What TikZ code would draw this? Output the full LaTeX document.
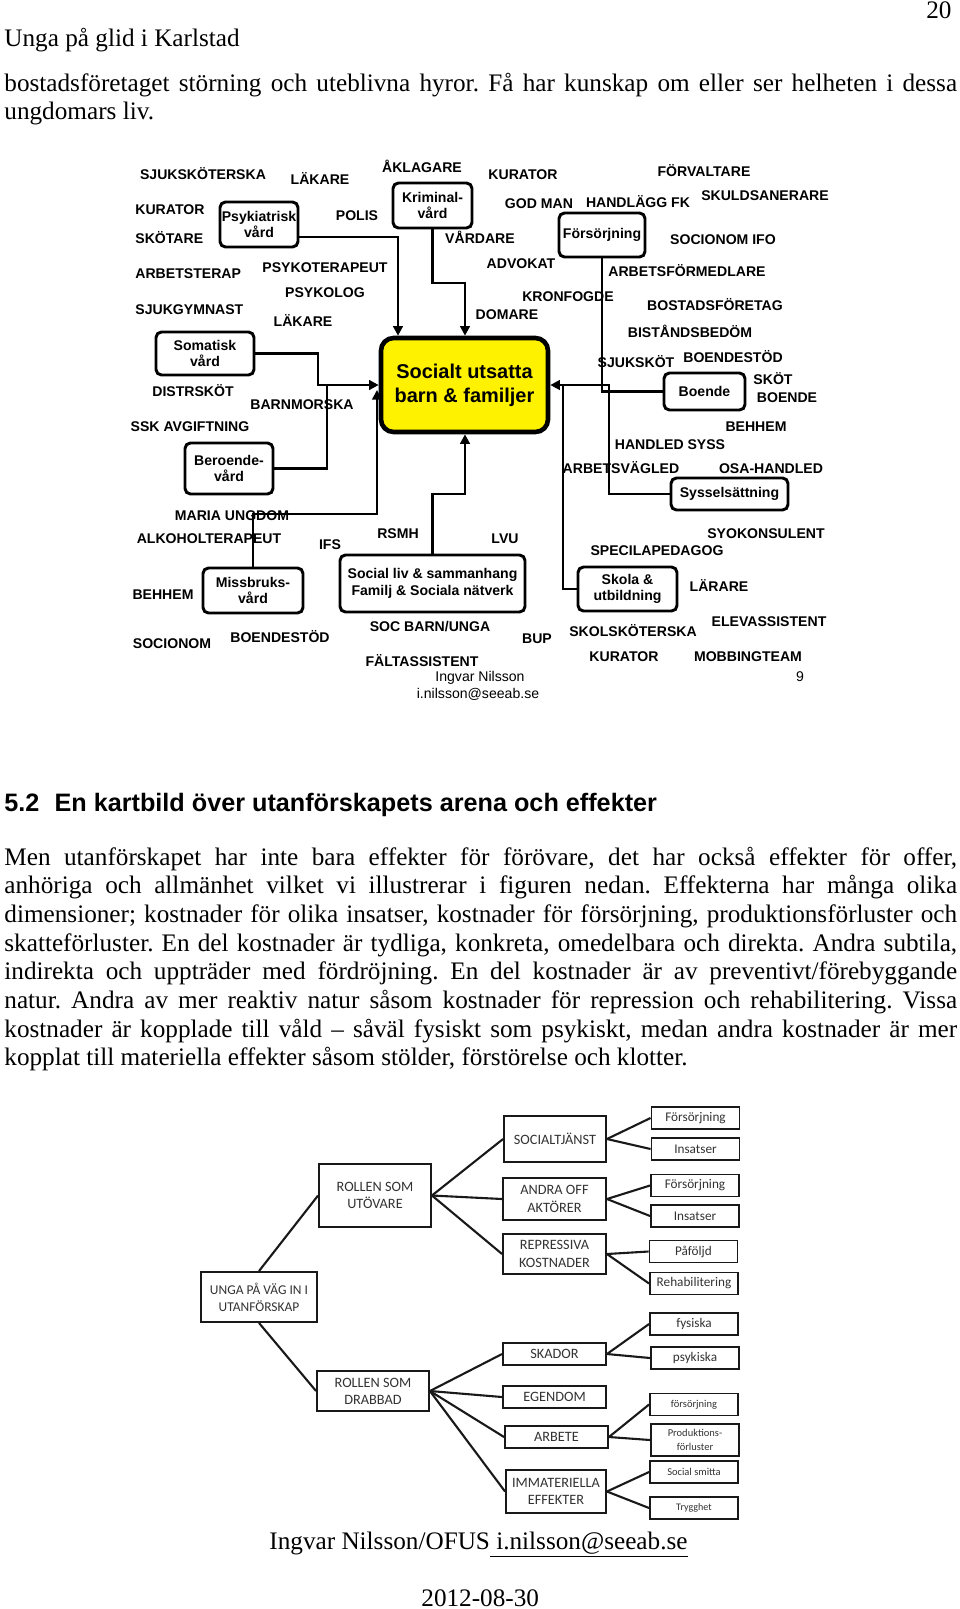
\documentclass[tikz,border=0pt]{standalone}
\usepackage{fontspec}
\setmainfont{Liberation Serif}
\setsansfont{Liberation Sans}
\newfontfamily\calib{Carlito}
\usepackage{tikz}
\usetikzlibrary{arrows.meta}
\frenchspacing
\newlength\px
\setlength\px{0.476pt}
\newcommand\fullline[1]{\makebox[453.5pt][s]{#1}}

\begin{document}
\begin{tikzpicture}[x=0.476pt, y=-0.476pt,
  sz/.style 2 args={minimum width=#1\px, minimum height=#2\px},
  lbl/.style={font=\sffamily\bfseries\fontsize{6.7}{7.7}\selectfont, inner sep=0pt, text height=4.8pt, text depth=0pt},
  lblr/.style={lbl, font=\sffamily\fontsize{6.7}{7.7}\selectfont},
  unit/.style={draw, line width=1.4pt, rounded corners=2.6pt, align=center, inner sep=0pt, font=\sffamily\bfseries\fontsize{6.7}{7.9}\selectfont},
  core/.style={draw, line width=2.2pt, rounded corners=6pt, fill=yellow, align=center, inner sep=0pt, font=\sffamily\bfseries\fontsize{9.5}{11.4}\selectfont},
  link/.style={line width=1.4pt},
  arr/.style={link, -{Triangle[length=4.6pt, width=4.6pt]}},
  txt/.style={anchor=base west, inner sep=0pt, font=\fontsize{12}{13.8}\selectfont},
  cbox/.style={draw=black!90, line width=0.9pt, align=center, inner sep=0pt, text=black!80, font=\calib\fontsize{6.8}{8.2}\selectfont},
  leaf/.style={cbox, sz={88}{22}, font=\calib\fontsize{6.3}{7.2}\selectfont},
  branch/.style={line width=1pt, draw=black!90}
]
  \fill[white] (0,0) rectangle (960,1609);
  \useasboundingbox (0,0) rectangle (960,1609);

  % page header and text above the map
  \node[txt, anchor=base east] (pageno) at (952,18) {20};
  \node[txt] (runhead) at (4,46) {Unga på glid i Karlstad};
  \node[txt] (intro1) at (4,91) {\fullline{bostadsföretaget störning och uteblivna hyror. Få har kunskap om eller ser helheten i dessa}};
  \node[txt] (intro2) at (4,119) {ungdomars liv.};

  % map: professions (labels)
  \node[lbl] (sjsk) at (203,174) {SJUKSKÖTERSKA};
  \node[lbl] (lak1) at (320,179) {LÄKARE};
  \node[lbl] (akl) at (422,167) {ÅKLAGARE};
  \node[lbl] (kur1) at (523,174) {KURATOR};
  \node[lbl] (forv) at (704,171) {FÖRVALTARE};
  \node[lbl, anchor=west] (kur2) at (135,209) {KURATOR};
  \node[lbl] (polis) at (357,215) {POLIS};
  \node[lbl] (godm) at (539,203) {GOD MAN};
  \node[lbl] (hfk) at (638,202) {HANDLÄGG FK};
  \node[lbl] (skuld) at (765,195) {SKULDSANERARE};
  \node[lbl, anchor=west] (skot1) at (135,238) {SKÖTARE};
  \node[lbl] (vard) at (480,238) {VÅRDARE};
  \node[lbl] (sifo) at (723,239) {SOCIONOM IFO};
  \node[lbl] (adv) at (521,263) {ADVOKAT};
  \node[lbl] (afm) at (687,271) {ARBETSFÖRMEDLARE};
  \node[lbl, anchor=west] (arbt) at (135,273) {ARBETSTERAP};
  \node[lbl] (psyt) at (325,267) {PSYKOTERAPEUT};
  \node[lbl] (psyl) at (325,292) {PSYKOLOG};
  \node[lbl] (kron) at (568,296) {KRONFOGDE};
  \node[lbl] (bost) at (715,305) {BOSTADSFÖRETAG};
  \node[lbl, anchor=west] (sjgy) at (135,309) {SJUKGYMNAST};
  \node[lbl] (lak2) at (303,321) {LÄKARE};
  \node[lbl] (dom) at (507,314) {DOMARE};
  \node[lbl] (bist) at (690,332) {BISTÅNDSBEDÖM};
  \node[lbl] (sjuk) at (636,362) {SJUKSKÖT};
  \node[lbl] (bst1) at (733,357) {BOENDESTÖD};
  \node[lbl] (skot2) at (773,379) {SKÖT};
  \node[lbl] (boe) at (787,397) {BOENDE};
  \node[lbl] (dist) at (193,391) {DISTRSKÖT};
  \node[lbl] (barn) at (302,404) {BARNMORSKA};
  \node[lbl] (ssk) at (190,426) {SSK AVGIFTNING};
  \node[lbl] (beh1) at (756,426) {BEHHEM};
  \node[lbl] (hsyss) at (670,444) {HANDLED SYSS};
  \node[lbl] (avgl) at (621,468) {ARBETSVÄGLED};
  \node[lbl] (osa) at (771,468) {OSA-HANDLED};
  \node[lbl] (maria) at (232,515) {MARIA UNGDOM};
  \node[lbl] (alko) at (209,538) {ALKOHOLTERAPEUT};
  \node[lbl] (ifs) at (330,544) {IFS};
  \node[lbl] (rsmh) at (398,533) {RSMH};
  \node[lbl] (lvu) at (505,538) {LVU};
  \node[lbl] (syo) at (766,533) {SYOKONSULENT};
  \node[lbl] (spec) at (657,550) {SPECILAPEDAGOG};
  \node[lbl] (beh2) at (163,594) {BEHHEM};
  \node[lbl] (lar) at (719,586) {LÄRARE};
  \node[lbl] (socbu) at (430,626) {SOC BARN/UNGA};
  \node[lbl] (bup) at (537,638) {BUP};
  \node[lbl] (skolsk) at (633,631) {SKOLSKÖTERSKA};
  \node[lbl] (elev) at (769,621) {ELEVASSISTENT};
  \node[lbl] (socn) at (172,643) {SOCIONOM};
  \node[lbl] (bst2) at (280,637) {BOENDESTÖD};
  \node[lbl] (falt) at (422,661) {FÄLTASSISTENT};
  \node[lbl] (kur3) at (624,656) {KURATOR};
  \node[lbl] (mobb) at (748,656) {MOBBINGTEAM};
  \node[lblr] (author) at (480,676) {Ingvar Nilsson};
  \node[lblr] (mail) at (478,693) {i.nilsson@seeab.se};
  \node[lblr] (slide) at (800,676) {9};

  % map: service boxes
  \node[unit, sz={78}{45}] (psyk) at (259,224.5) {Psykiatrisk\\vård};
  \node[unit, sz={79}{45}] (krim) at (432.5,205.5) {Kriminal-\\vård};
  \node[unit, sz={86}{44}] (fors) at (602,235) {Försörjning};
  \node[unit, sz={98}{43}] (som) at (205,353.5) {Somatisk\\vård};
  \node[core, sz={167}{94}] (cent) at (464.5,385) {Socialt utsatta\\barn \& familjer};
  \node[unit, sz={81}{37}] (boende) at (704.5,391.5) {Boende};
  \node[unit, sz={88}{51}] (ber) at (229,468.5) {Beroende-\\vård};
  \node[unit, sz={117}{32}] (syss) at (729.5,494) {Sysselsättning};
  \node[unit, sz={100}{45}] (mis) at (253,590.5) {Missbruks-\\vård};
  \node[unit, sz={185}{57}] (soc) at (432.5,583.5) {Social liv \& sammanhang\\Familj \& Sociala nätverk};
  \node[unit, sz={99}{44}] (skola) at (627.5,589) {Skola \&\\utbildning};

  % map: bends of the connectors
  \coordinate (psykdrop) at (398,237);
  \coordinate (krimbend) at (465,283);
  \coordinate (somjoin) at (318,385);
  \coordinate (berjoin) at (327,385);
  \coordinate (misbend) at (377,514);
  \coordinate (misend) at (377,390);
  \coordinate (socbend) at (465,494);
  \coordinate (rjoin) at (609,385);
  \coordinate (skjoin) at (563,385);

  % map: connectors
  \draw[arr] (psyk.east |- psykdrop) -- (psykdrop) -- (psykdrop |- cent.north);
  \draw[arr] (krim.south) |- (krimbend) -- (krimbend |- cent.north);
  \draw[arr] (som.east) -| (somjoin) -- (somjoin -| cent.west);
  \draw[link] (ber.east) -| (berjoin);
  \draw[arr] (mis.north) |- (misbend) -- (misend);
  \draw[arr] (soc.north) |- (socbend) -- (socbend |- cent.south);
  \draw[link] (fors.south) |- (boende.west);
  \draw[arr] (syss.west) -| (rjoin) -- (rjoin -| cent.east);
  \draw[link] (skola.west) -| (skjoin);

  % section text
  \node[txt, font=\sffamily\bfseries\fontsize{12}{14}\selectfont] (head) at (4,811) {5.2\hspace{0.6em}En kartbild över utanförskapets arena och effekter};
  \node[txt] (par1) at (4,865) {\fullline{Men utanförskapet har inte bara effekter för förövare, det har också effekter för offer,}};
  \node[txt] (par2) at (4,893.7) {\fullline{anhöriga och allmänhet vilket vi illustrerar i figuren nedan. Effekterna har många olika}};
  \node[txt] (par3) at (4,922.4) {\fullline{dimensioner; kostnader för olika insatser, kostnader för försörjning, produktionsförluster och}};
  \node[txt] (par4) at (4,951.1) {\fullline{skatteförluster. En del kostnader är tydliga, konkreta, omedelbara och direkta. Andra subtila,}};
  \node[txt] (par5) at (4,979.8) {\fullline{indirekta och uppträder med fördröjning. En del kostnader är av preventivt/förebyggande}};
  \node[txt] (par6) at (4,1008.5) {\fullline{natur. Andra av mer reaktiv natur såsom kostnader för repression och rehabilitering. Vissa}};
  \node[txt] (par7) at (4,1037.2) {\fullline{kostnader är kopplade till våld – såväl fysiskt som psykiskt, medan andra kostnader är mer}};
  \node[txt] (par8) at (4,1065.9) {kopplat till materiella effekter såsom stölder, förstörelse och klotter.};

  % cost tree
  \node[cbox, sz={116}{50}, font=\calib\fontsize{6.4}{8.2}\selectfont] (unga) at (259,1297) {UNGA PÅ VÄG IN I\\UTANFÖRSKAP};
  \node[cbox, sz={112}{63}] (utov) at (375,1195.5) {ROLLEN SOM\\UTÖVARE};
  \node[cbox, sz={112}{40}] (drab) at (373,1391) {ROLLEN SOM\\DRABBAD};
  \node[cbox, sz={102}{46}] (soctj) at (555,1139) {SOCIALTJÄNST};
  \node[cbox, sz={103}{42}] (andra) at (554.5,1199) {ANDRA OFF\\AKTÖRER};
  \node[cbox, sz={103}{40}] (repr) at (554.5,1254) {REPRESSIVA\\KOSTNADER};
  \node[cbox, sz={103}{22}] (skador) at (554.5,1354) {SKADOR};
  \node[cbox, sz={103}{22}] (egend) at (554.5,1397) {EGENDOM};
  \node[cbox, sz={103}{22}] (arbete) at (556.5,1437) {ARBETE};
  \node[cbox, sz={100}{43}] (immat) at (556,1491.5) {IMMATERIELLA\\EFFEKTER};

  \node[leaf] (fo1) at (695.5,1118) {Försörjning};
  \node[leaf] (ins1) at (695.5,1149) {Insatser};
  \node[leaf] (fo2) at (695,1185.5) {Försörjning};
  \node[leaf] (ins2) at (695,1216) {Insatser};
  \node[leaf] (paf) at (693.5,1251.5) {Påföljd};
  \node[leaf] (reh) at (694,1283.5) {Rehabilitering};
  \node[leaf] (fys) at (694,1324) {fysiska};
  \node[leaf] (psy) at (695,1358) {psykiska};
  \node[leaf, font=\calib\fontsize{5}{6}\selectfont] (fo3) at (694,1404.5) {försörjning};
  \node[leaf, sz={88}{32}, font=\calib\fontsize{5}{6.4}\selectfont] (prod) at (695,1440) {Produktions-\\förluster};
  \node[leaf, font=\calib\fontsize{5}{6}\selectfont] (smit) at (694,1472) {Social smitta};
  \node[leaf, font=\calib\fontsize{4.8}{6}\selectfont] (tryg) at (694,1508) {Trygghet};

  \draw[branch] (unga.north) -- (utov.west);
  \draw[branch] (unga.south) -- (drab.west);
  \draw[branch] (utov.east) -- (soctj.west);
  \draw[branch] (utov.east) -- (andra.west);
  \draw[branch] (utov.east) -- (repr.west);
  \draw[branch] (drab.east) -- (skador.west);
  \draw[branch] (drab.east) -- (egend.west);
  \draw[branch] (drab.east) -- (arbete.west);
  \draw[branch] (drab.east) -- (immat.west);
  \draw[branch] (soctj.east) -- (fo1.west);
  \draw[branch] (soctj.east) -- (ins1.west);
  \draw[branch] (andra.east) -- (fo2.west);
  \draw[branch] (andra.east) -- (ins2.west);
  \draw[branch] (repr.east) -- (paf.west);
  \draw[branch] (repr.east) -- (reh.west);
  \draw[branch] (skador.east) -- (fys.west);
  \draw[branch] (skador.east) -- (psy.west);
  \draw[branch] (arbete.east) -- (fo3.west);
  \draw[branch] (arbete.east) -- (prod.west);
  \draw[branch] (immat.east) -- (smit.west);
  \draw[branch] (immat.east) -- (tryg.west);

  % footer
  \node[txt] (foot) at (269,1549) {Ingvar Nilsson/OFUS\underline{\ i.nilsson@seeab.se}};
  \node[txt] (date) at (421,1606) {2012-08-30};
\end{tikzpicture}
\end{document}
